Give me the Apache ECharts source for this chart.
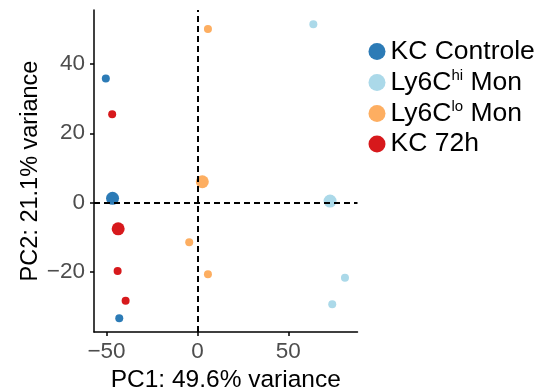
<!DOCTYPE html>
<html>
<head>
<meta charset="utf-8">
<script src="https://cdn.jsdelivr.net/npm/echarts@6/dist/echarts.min.js"></script>
<style>
  html, body { margin: 0; padding: 0; background: #fff; }
  #chart { width: 539px; height: 392px; }
</style>
</head>
<body>
<div id="chart"></div>
<script>
// groups, legend order
const groups = ['KC Controle', 'Ly6Chi Mon', 'Ly6Clo Mon', 'KC 72h']
const colors = ['#2C7BB6', '#ABD9E9', '#FDAE61', '#D7191C']

// sample scores (PC1 / PC2)
const kcControlePC1 = [-50.4, -43.0]
const kcControlePC2 = [35.8, -33.4]
const ly6cHiPC1 = [63.8, 81.2, 74.2]
const ly6cHiPC2 = [51.5, -21.7, -29.4]
const ly6cLoPC1 = [5.8, -4.5, 5.8]
const ly6cLoPC2 = [50.1, -11.5, -20.7]
const kc72hPC1 = [-46.9, -43.9, -39.5]
const kc72hPC2 = [25.5, -19.8, -28.4]

// group centroids (big dots), same order as groups
const centroidPC1 = [-46.7, 73.0, 2.7, -43.6]
const centroidPC2 = [1.2, 0.4, 6.0, -7.6]

const xTicks = [-50, 0, 50]
const yTicks = [-20, 0, 20, 40]

const FONT = "'Liberation Sans', Arial, sans-serif"

const samplePC1 = [kcControlePC1, ly6cHiPC1, ly6cLoPC1, kc72hPC1]
const samplePC2 = [kcControlePC2, ly6cHiPC2, ly6cLoPC2, kc72hPC2]

const pairs = (xs, ys) => xs.map((x, i) => [x, ys[i]])
const minus = (v) => String(v).replace('-', '\u2212')

// legend text with superscripts
const legendLabel = (name) => {
  if (name === 'Ly6Chi Mon') return '{a|Ly6C}{s|hi}{a| Mon}'
  if (name === 'Ly6Clo Mon') return '{a|Ly6C}{s|lo}{a| Mon}'
  return '{a|' + name + '}'
}

const series = []
groups.forEach((g, i) => {
  series.push({
    name: g,
    type: 'scatter',
    symbolSize: 8,
    itemStyle: { color: colors[i], opacity: 1 },
    data: pairs(samplePC1[i], samplePC2[i]),
    z: 2,
  })
})
groups.forEach((g, i) => {
  series.push({
    name: g,
    type: 'scatter',
    symbolSize: 13,
    itemStyle: { color: colors[i], opacity: 1 },
    data: [[centroidPC1[i], centroidPC2[i]]],
    z: 2,
  })
})
// dashed guides through the origin
series.push({
  name: 'guides',
  type: 'scatter',
  data: [],
  z: 5,
  markLine: {
    silent: true,
    animation: false,
    symbol: ['none', 'none'],
    label: { show: false },
    lineStyle: { color: '#000', width: 2, type: [6, 4] },
    emphasis: { disabled: true },
    data: [{ xAxis: 0 }, { yAxis: 0 }],
  },
})

const chart = echarts.init(document.getElementById('chart'), null, { renderer: 'canvas' })

const option = {
  backgroundColor: '#fff',
  animation: false,
  textStyle: { fontFamily: FONT },
  grid: {
    left: 94,
    right: 181.5,
    top: 10,
    bottom: 60,
    containLabel: false,
    outerBoundsMode: 'none',
  },
  legend: {
    data: groups.map((g) => ({ name: g, icon: 'circle' })),
    orient: 'vertical',
    left: 368.5,
    top: 38,
    padding: 0,
    itemWidth: 17,
    itemHeight: 17,
    itemGap: 3.5,
    selectedMode: false,
    formatter: legendLabel,
    textStyle: {
      fontFamily: FONT,
      rich: {
        a: { fontSize: 26.5, lineHeight: 28, color: '#000', fontFamily: FONT },
        s: { fontSize: 15, lineHeight: 17, verticalAlign: 'top', color: '#000', fontFamily: FONT },
      },
    },
  },
  xAxis: {
    type: 'value',
    min: -56.9,
    max: 88.1,
    splitLine: { show: false },
    axisLine: { onZero: false, lineStyle: { color: '#000', width: 1.5 } },
    axisTick: { length: 4, customValues: xTicks, lineStyle: { color: '#000', width: 1.5 } },
    axisLabel: {
      customValues: xTicks,
      formatter: minus,
      fontSize: 22.5,
      color: '#4D4D4D',
      margin: 8,
      fontFamily: FONT,
    },
    name: 'PC1: 49.6% variance',
    nameLocation: 'middle',
    nameGap: 32,
    nameTextStyle: { fontSize: 24.5, color: '#000', fontFamily: FONT },
  },
  yAxis: {
    type: 'value',
    min: -37.4,
    max: 55.6,
    splitLine: { show: false },
    axisLine: { onZero: false, lineStyle: { color: '#000', width: 1.5 } },
    axisTick: { length: 4, customValues: yTicks, lineStyle: { color: '#000', width: 1.5 } },
    axisLabel: {
      customValues: yTicks,
      formatter: minus,
      fontSize: 22.5,
      color: '#4D4D4D',
      margin: 9,
      fontFamily: FONT,
    },
    name: 'PC2: 21.1% variance',
    nameLocation: 'middle',
    nameGap: 51,
    nameTextStyle: { fontSize: 23.5, color: '#000', fontFamily: FONT },
  },
  series: series,
}

chart.setOption(option)
</script>
</body>
</html>
